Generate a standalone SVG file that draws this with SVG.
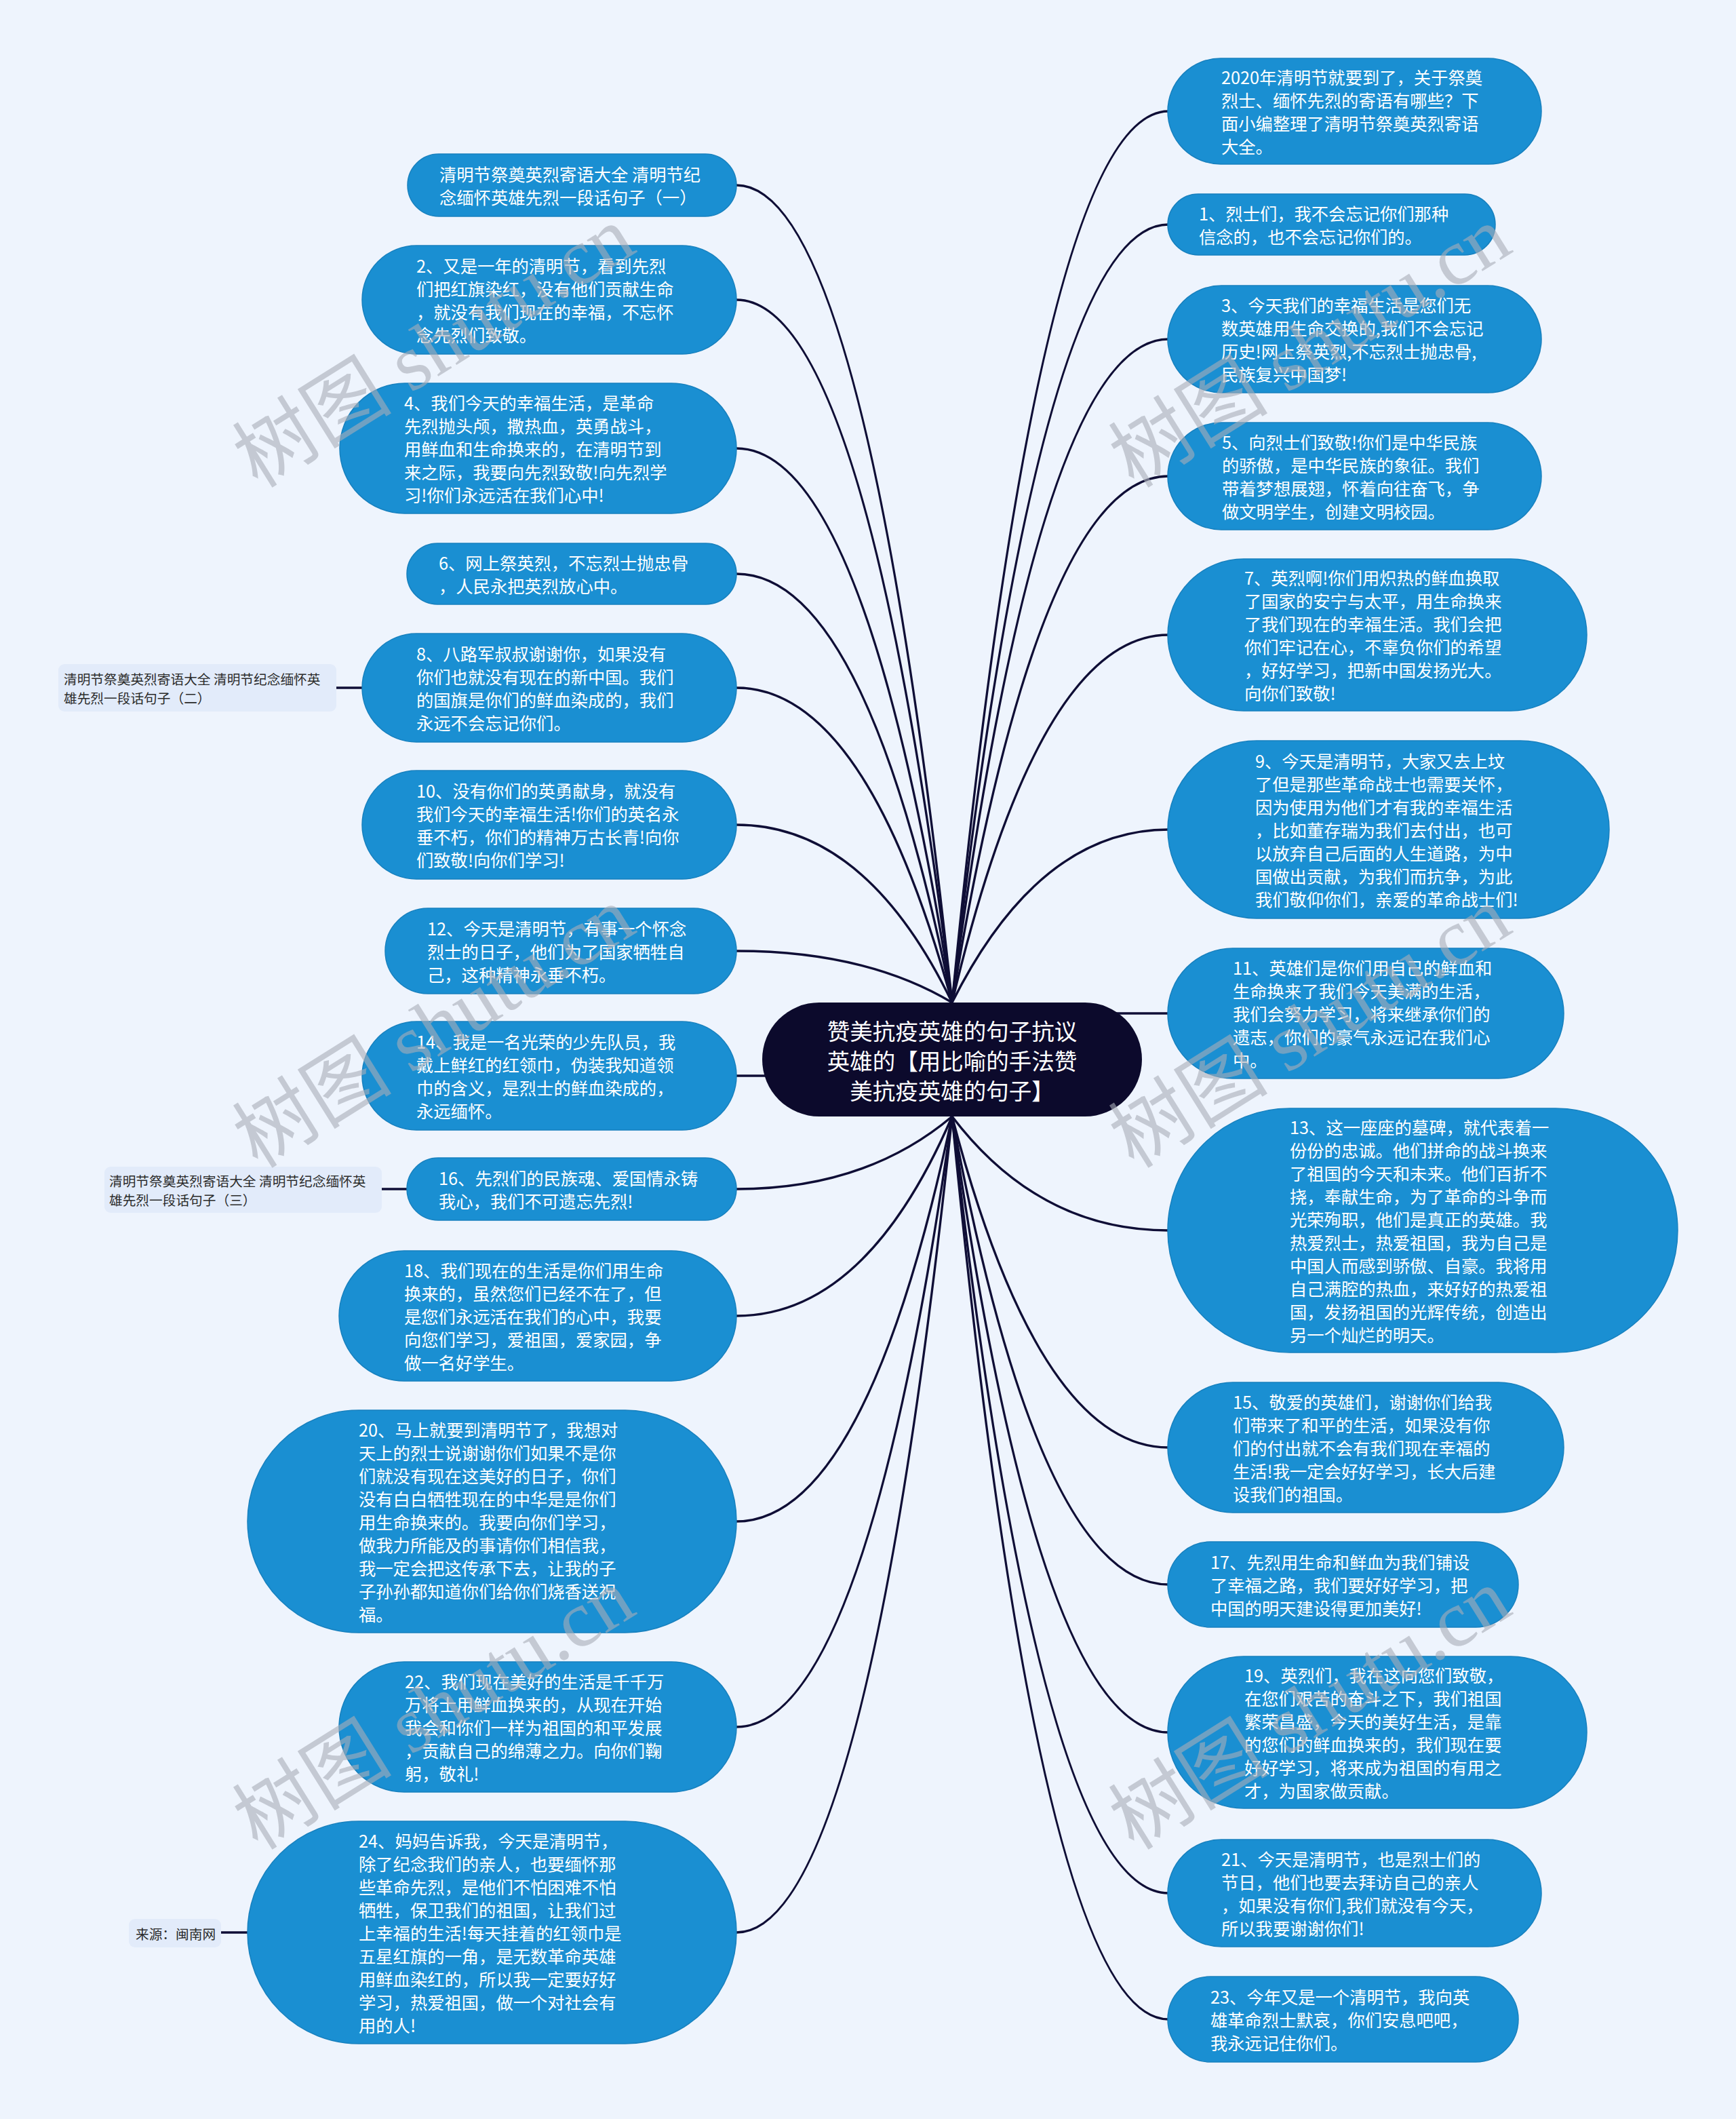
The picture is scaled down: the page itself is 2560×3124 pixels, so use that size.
<svg xmlns="http://www.w3.org/2000/svg" width="2560" height="3124" viewBox="0 0 2560 3124">
<style>
.bg{fill:#eef4fd}
.n{fill:#1a8fd2;stroke:#1780be;stroke-width:1.5}
.root{fill:#0c0a2c}
.lb{fill:#e2ebfa}
.c{fill:none;stroke:#0f0e36;stroke-width:3.4}
.t,.t tspan{font-family:"Noto Sans CJK SC","Noto Sans",sans-serif;font-size:25.3px;fill:#ffffff;dominant-baseline:central}
.rt,.rt tspan{font-family:"Noto Sans CJK SC","Noto Sans",sans-serif;font-size:33.5px;fill:#ffffff;dominant-baseline:central;text-anchor:middle}
.lt,.lt tspan{font-family:"Noto Sans CJK SC","Noto Sans",sans-serif;font-size:19.7px;fill:#2b2b2b;dominant-baseline:central}
.wm{font-family:"Liberation Serif","Noto Sans CJK SC",serif;font-size:118px;fill:#a9aeb8;opacity:0.6;text-anchor:middle;dominant-baseline:central}
</style>
<rect class="bg" x="0" y="0" width="2560" height="3124"/>
<g id="connectors">
<path class="c" d="M1404,1478 Q1277,273 1086,273"/>
<path class="c" d="M1404,1478 Q1277,442 1086,442"/>
<path class="c" d="M1404,1478 Q1277,661 1086,661"/>
<path class="c" d="M1404,1478 Q1277,846 1086,846"/>
<path class="c" d="M1404,1478 Q1277,1014 1086,1014"/>
<path class="c" d="M1404,1478 Q1277,1216 1086,1216"/>
<path class="c" d="M1404,1478 Q1277,1402 1086,1402"/>
<path class="c" d="M1200,1586 L1086,1586"/>
<path class="c" d="M1404,1646 Q1277,1753 1086,1753"/>
<path class="c" d="M1404,1646 Q1277,1940 1086,1940"/>
<path class="c" d="M1404,1646 Q1277,2243 1086,2243"/>
<path class="c" d="M1404,1646 Q1277,2546 1086,2546"/>
<path class="c" d="M1404,1646 Q1277,2849 1086,2849"/>
<path class="c" d="M1404,1478 Q1532,164 1723,164"/>
<path class="c" d="M1404,1478 Q1532,331 1723,331"/>
<path class="c" d="M1404,1478 Q1532,500 1723,500"/>
<path class="c" d="M1404,1478 Q1532,702 1723,702"/>
<path class="c" d="M1404,1478 Q1532,936 1723,936"/>
<path class="c" d="M1404,1478 Q1532,1223 1723,1223"/>
<path class="c" d="M1600,1494 L1723,1494"/>
<path class="c" d="M1404,1646 Q1532,1814 1723,1814"/>
<path class="c" d="M1404,1646 Q1532,2134 1723,2134"/>
<path class="c" d="M1404,1646 Q1532,2336 1723,2336"/>
<path class="c" d="M1404,1646 Q1532,2554 1723,2554"/>
<path class="c" d="M1404,1646 Q1532,2791 1723,2791"/>
<path class="c" d="M1404,1646 Q1532,2977 1723,2977"/>
<path class="c" d="M496,1014 L534,1014"/>
<path class="c" d="M563,1753 L600,1753"/>
<path class="c" d="M326,2849 L365,2849"/>
</g>
<g id="root">
<rect class="root" x="1124" y="1478" width="560" height="168" rx="84"/>
<text class="rt"><tspan x="1404" y="1518">赞美抗疫英雄的句子抗议</tspan><tspan x="1404" y="1562">英雄的【用比喻的手法赞</tspan><tspan x="1404" y="1606">美抗疫英雄的句子】</tspan></text>
</g>
<g id="r0">
<rect class="n" x="1722" y="86" width="551" height="156" rx="78"/>
<text class="t"><tspan x="1801" y="113">2020年清明节就要到了，关于祭奠</tspan><tspan x="1801" y="147">烈士、缅怀先烈的寄语有哪些？下</tspan><tspan x="1801" y="181">面小编整理了清明节祭奠英烈寄语</tspan><tspan x="1801" y="215">大全。</tspan></text>
</g>
<g id="r1">
<rect class="n" x="1722" y="286" width="483" height="90" rx="45"/>
<text class="t"><tspan x="1768" y="314">1、烈士们，我不会忘记你们那种</tspan><tspan x="1768" y="348">信念的，也不会忘记你们的。</tspan></text>
</g>
<g id="r2">
<rect class="n" x="1722" y="421" width="551" height="158" rx="79"/>
<text class="t"><tspan x="1801" y="449">3、今天我们的幸福生活是您们无</tspan><tspan x="1801" y="483">数英雄用生命交换的,我们不会忘记</tspan><tspan x="1801" y="517">历史!网上祭英烈,不忘烈士抛忠骨,</tspan><tspan x="1801" y="551">民族复兴中国梦!</tspan></text>
</g>
<g id="r3">
<rect class="n" x="1722" y="623" width="551" height="158" rx="79"/>
<text class="t"><tspan x="1802" y="651">5、向烈士们致敬!你们是中华民族</tspan><tspan x="1802" y="685">的骄傲，是中华民族的象征。我们</tspan><tspan x="1802" y="719">带着梦想展翅，怀着向往奋飞，争</tspan><tspan x="1802" y="753">做文明学生，创建文明校园。</tspan></text>
</g>
<g id="r4">
<rect class="n" x="1722" y="824" width="618" height="224" rx="112"/>
<text class="t"><tspan x="1835" y="851">7、英烈啊!你们用炽热的鲜血换取</tspan><tspan x="1835" y="885">了国家的安宁与太平，用生命换来</tspan><tspan x="1835" y="919">了我们现在的幸福生活。我们会把</tspan><tspan x="1835" y="953">你们牢记在心，不辜负你们的希望</tspan><tspan x="1835" y="987">，好好学习，把新中国发扬光大。</tspan><tspan x="1835" y="1021">向你们致敬!</tspan></text>
</g>
<g id="r5">
<rect class="n" x="1722" y="1092" width="651" height="262" rx="131"/>
<text class="t"><tspan x="1851" y="1121">9、今天是清明节，大家又去上坟</tspan><tspan x="1851" y="1155">了但是那些革命战士也需要关怀，</tspan><tspan x="1851" y="1189">因为使用为他们才有我的幸福生活</tspan><tspan x="1851" y="1223">，比如董存瑞为我们去付出，也可</tspan><tspan x="1851" y="1257">以放弃自己后面的人生道路，为中</tspan><tspan x="1851" y="1291">国做出贡献，为我们而抗争，为此</tspan><tspan x="1851" y="1325">我们敬仰你们，亲爱的革命战士们!</tspan></text>
</g>
<g id="r6">
<rect class="n" x="1722" y="1398" width="584" height="192" rx="96"/>
<text class="t"><tspan x="1818" y="1426">11、英雄们是你们用自己的鲜血和</tspan><tspan x="1818" y="1460">生命换来了我们今天美满的生活，</tspan><tspan x="1818" y="1494">我们会努力学习，将来继承你们的</tspan><tspan x="1818" y="1528">遗志，你们的豪气永远记在我们心</tspan><tspan x="1818" y="1562">中。</tspan></text>
</g>
<g id="r7">
<rect class="n" x="1722" y="1634" width="752" height="360" rx="180"/>
<text class="t"><tspan x="1902" y="1661">13、这一座座的墓碑，就代表着一</tspan><tspan x="1902" y="1695">份份的忠诚。他们拼命的战斗换来</tspan><tspan x="1902" y="1729">了祖国的今天和未来。他们百折不</tspan><tspan x="1902" y="1763">挠，奉献生命，为了革命的斗争而</tspan><tspan x="1902" y="1797">光荣殉职，他们是真正的英雄。我</tspan><tspan x="1902" y="1831">热爱烈士，热爱祖国，我为自己是</tspan><tspan x="1902" y="1865">中国人而感到骄傲、自豪。我将用</tspan><tspan x="1902" y="1899">自己满腔的热血，来好好的热爱祖</tspan><tspan x="1902" y="1933">国，发扬祖国的光辉传统，创造出</tspan><tspan x="1902" y="1967">另一个灿烂的明天。</tspan></text>
</g>
<g id="r8">
<rect class="n" x="1722" y="2038" width="584" height="192" rx="96"/>
<text class="t"><tspan x="1818" y="2066">15、敬爱的英雄们，谢谢你们给我</tspan><tspan x="1818" y="2100">们带来了和平的生活，如果没有你</tspan><tspan x="1818" y="2134">们的付出就不会有我们现在幸福的</tspan><tspan x="1818" y="2168">生活!我一定会好好学习，长大后建</tspan><tspan x="1818" y="2202">设我们的祖国。</tspan></text>
</g>
<g id="r9">
<rect class="n" x="1722" y="2273" width="517" height="126" rx="63"/>
<text class="t"><tspan x="1785" y="2302">17、先烈用生命和鲜血为我们铺设</tspan><tspan x="1785" y="2336">了幸福之路，我们要好好学习，把</tspan><tspan x="1785" y="2370">中国的明天建设得更加美好!</tspan></text>
</g>
<g id="r10">
<rect class="n" x="1722" y="2442" width="618" height="224" rx="112"/>
<text class="t"><tspan x="1835" y="2469">19、英烈们，我在这向您们致敬，</tspan><tspan x="1835" y="2503">在您们艰苦的奋斗之下，我们祖国</tspan><tspan x="1835" y="2537">繁荣昌盛，今天的美好生活，是靠</tspan><tspan x="1835" y="2571">的您们的鲜血换来的，我们现在要</tspan><tspan x="1835" y="2605">好好学习，将来成为祖国的有用之</tspan><tspan x="1835" y="2639">才，为国家做贡献。</tspan></text>
</g>
<g id="r11">
<rect class="n" x="1722" y="2712" width="551" height="158" rx="79"/>
<text class="t"><tspan x="1801" y="2740">21、今天是清明节，也是烈士们的</tspan><tspan x="1801" y="2774">节日，他们也要去拜访自己的亲人</tspan><tspan x="1801" y="2808">，如果没有你们,我们就没有今天，</tspan><tspan x="1801" y="2842">所以我要谢谢你们!</tspan></text>
</g>
<g id="r12">
<rect class="n" x="1722" y="2914" width="517" height="126" rx="63"/>
<text class="t"><tspan x="1785" y="2943">23、今年又是一个清明节，我向英</tspan><tspan x="1785" y="2977">雄革命烈士默哀，你们安息吧吧，</tspan><tspan x="1785" y="3011">我永远记住你们。</tspan></text>
</g>
<g id="l0">
<rect class="n" x="601" y="227" width="485" height="92" rx="46"/>
<text class="t"><tspan x="648" y="256">清明节祭奠英烈寄语大全 清明节纪</tspan><tspan x="648" y="290">念缅怀英雄先烈一段话句子（一）</tspan></text>
</g>
<g id="l1">
<rect class="n" x="534" y="362" width="552" height="160" rx="80"/>
<text class="t"><tspan x="614" y="391">2、又是一年的清明节，看到先烈</tspan><tspan x="614" y="425">们把红旗染红，没有他们贡献生命</tspan><tspan x="614" y="459">，就没有我们现在的幸福，不忘怀</tspan><tspan x="614" y="493">念先烈们致敬。</tspan></text>
</g>
<g id="l2">
<rect class="n" x="501" y="565" width="585" height="192" rx="96"/>
<text class="t"><tspan x="596" y="593">4、我们今天的幸福生活，是革命</tspan><tspan x="596" y="627">先烈抛头颅，撒热血，英勇战斗，</tspan><tspan x="596" y="661">用鲜血和生命换来的，在清明节到</tspan><tspan x="596" y="695">来之际，我要向先烈致敬!向先烈学</tspan><tspan x="596" y="729">习!你们永远活在我们心中!</tspan></text>
</g>
<g id="l3">
<rect class="n" x="600" y="801" width="486" height="90" rx="45"/>
<text class="t"><tspan x="647" y="829">6、网上祭英烈，不忘烈士抛忠骨</tspan><tspan x="647" y="863">，人民永把英烈放心中。</tspan></text>
</g>
<g id="l4">
<rect class="n" x="534" y="934" width="552" height="160" rx="80"/>
<text class="t"><tspan x="614" y="963">8、八路军叔叔谢谢你，如果没有</tspan><tspan x="614" y="997">你们也就没有现在的新中国。我们</tspan><tspan x="614" y="1031">的国旗是你们的鲜血染成的，我们</tspan><tspan x="614" y="1065">永远不会忘记你们。</tspan></text>
</g>
<g id="s1">
<rect class="lb" x="86" y="979" width="410" height="70" rx="9"/>
<text class="lt"><tspan x="94" y="1000">清明节祭奠英烈寄语大全 清明节纪念缅怀英</tspan><tspan x="94" y="1028">雄先烈一段话句子（二）</tspan></text>
</g>
<g id="l5">
<rect class="n" x="534" y="1136" width="552" height="160" rx="80"/>
<text class="t"><tspan x="614" y="1165">10、没有你们的英勇献身，就没有</tspan><tspan x="614" y="1199">我们今天的幸福生活!你们的英名永</tspan><tspan x="614" y="1233">垂不朽，你们的精神万古长青!向你</tspan><tspan x="614" y="1267">们致敬!向你们学习!</tspan></text>
</g>
<g id="l6">
<rect class="n" x="568" y="1339" width="518" height="126" rx="63"/>
<text class="t"><tspan x="630" y="1368">12、今天是清明节，有事一个怀念</tspan><tspan x="630" y="1402">烈士的日子，他们为了国家牺牲自</tspan><tspan x="630" y="1436">己，这种精神永垂不朽。</tspan></text>
</g>
<g id="l7">
<rect class="n" x="534" y="1506" width="552" height="160" rx="80"/>
<text class="t"><tspan x="614" y="1535">14、我是一名光荣的少先队员，我</tspan><tspan x="614" y="1569">戴上鲜红的红领巾，伪装我知道领</tspan><tspan x="614" y="1603">巾的含义，是烈士的鲜血染成的，</tspan><tspan x="614" y="1637">永远缅怀。</tspan></text>
</g>
<g id="l8">
<rect class="n" x="600" y="1707" width="486" height="92" rx="46"/>
<text class="t"><tspan x="647" y="1736">16、先烈们的民族魂、爱国情永铸</tspan><tspan x="647" y="1770">我心，我们不可遗忘先烈!</tspan></text>
</g>
<g id="s2">
<rect class="lb" x="154" y="1720" width="409" height="68" rx="9"/>
<text class="lt"><tspan x="161" y="1740">清明节祭奠英烈寄语大全 清明节纪念缅怀英</tspan><tspan x="161" y="1768">雄先烈一段话句子（三）</tspan></text>
</g>
<g id="l9">
<rect class="n" x="500" y="1844" width="586" height="192" rx="96"/>
<text class="t"><tspan x="596" y="1872">18、我们现在的生活是你们用生命</tspan><tspan x="596" y="1906">换来的，虽然您们已经不在了，但</tspan><tspan x="596" y="1940">是您们永远活在我们的心中，我要</tspan><tspan x="596" y="1974">向您们学习，爱祖国，爱家园，争</tspan><tspan x="596" y="2008">做一名好学生。</tspan></text>
</g>
<g id="l10">
<rect class="n" x="365" y="2079" width="721" height="328" rx="164"/>
<text class="t"><tspan x="529" y="2107">20、马上就要到清明节了，我想对</tspan><tspan x="529" y="2141">天上的烈士说谢谢你们如果不是你</tspan><tspan x="529" y="2175">们就没有现在这美好的日子，你们</tspan><tspan x="529" y="2209">没有白白牺牲现在的中华是是你们</tspan><tspan x="529" y="2243">用生命换来的。我要向你们学习，</tspan><tspan x="529" y="2277">做我力所能及的事请你们相信我，</tspan><tspan x="529" y="2311">我一定会把这传承下去，让我的子</tspan><tspan x="529" y="2345">子孙孙都知道你们给你们烧香送祝</tspan><tspan x="529" y="2379">福。</tspan></text>
</g>
<g id="l11">
<rect class="n" x="500" y="2450" width="586" height="192" rx="96"/>
<text class="t"><tspan x="597" y="2478">22、我们现在美好的生活是千千万</tspan><tspan x="597" y="2512">万将士用鲜血换来的，从现在开始</tspan><tspan x="597" y="2546">我会和你们一样为祖国的和平发展</tspan><tspan x="597" y="2580">，贡献自己的绵薄之力。向你们鞠</tspan><tspan x="597" y="2614">躬，敬礼!</tspan></text>
</g>
<g id="l12">
<rect class="n" x="365" y="2685" width="721" height="328" rx="164"/>
<text class="t"><tspan x="529" y="2713">24、妈妈告诉我，今天是清明节，</tspan><tspan x="529" y="2747">除了纪念我们的亲人，也要缅怀那</tspan><tspan x="529" y="2781">些革命先烈，是他们不怕困难不怕</tspan><tspan x="529" y="2815">牺牲，保卫我们的祖国，让我们过</tspan><tspan x="529" y="2849">上幸福的生活!每天挂着的红领巾是</tspan><tspan x="529" y="2883">五星红旗的一角，是无数革命英雄</tspan><tspan x="529" y="2917">用鲜血染红的，所以我一定要好好</tspan><tspan x="529" y="2951">学习，热爱祖国，做一个对社会有</tspan><tspan x="529" y="2985">用的人!</tspan></text>
</g>
<g id="s3">
<rect class="lb" x="190" y="2829" width="136" height="42" rx="9"/>
<text class="lt"><tspan x="200" y="2850">来源：闽南网</tspan></text>
</g>
<g id="watermarks">
<text class="wm" transform="translate(640,512) rotate(-32)">树图 shutu.cn</text>
<text class="wm" transform="translate(1932,512) rotate(-32)">树图 shutu.cn</text>
<text class="wm" transform="translate(640,1515) rotate(-32)">树图 shutu.cn</text>
<text class="wm" transform="translate(1932,1515) rotate(-32)">树图 shutu.cn</text>
<text class="wm" transform="translate(640,2520) rotate(-32)">树图 shutu.cn</text>
<text class="wm" transform="translate(1932,2520) rotate(-32)">树图 shutu.cn</text>
</g>
</svg>
